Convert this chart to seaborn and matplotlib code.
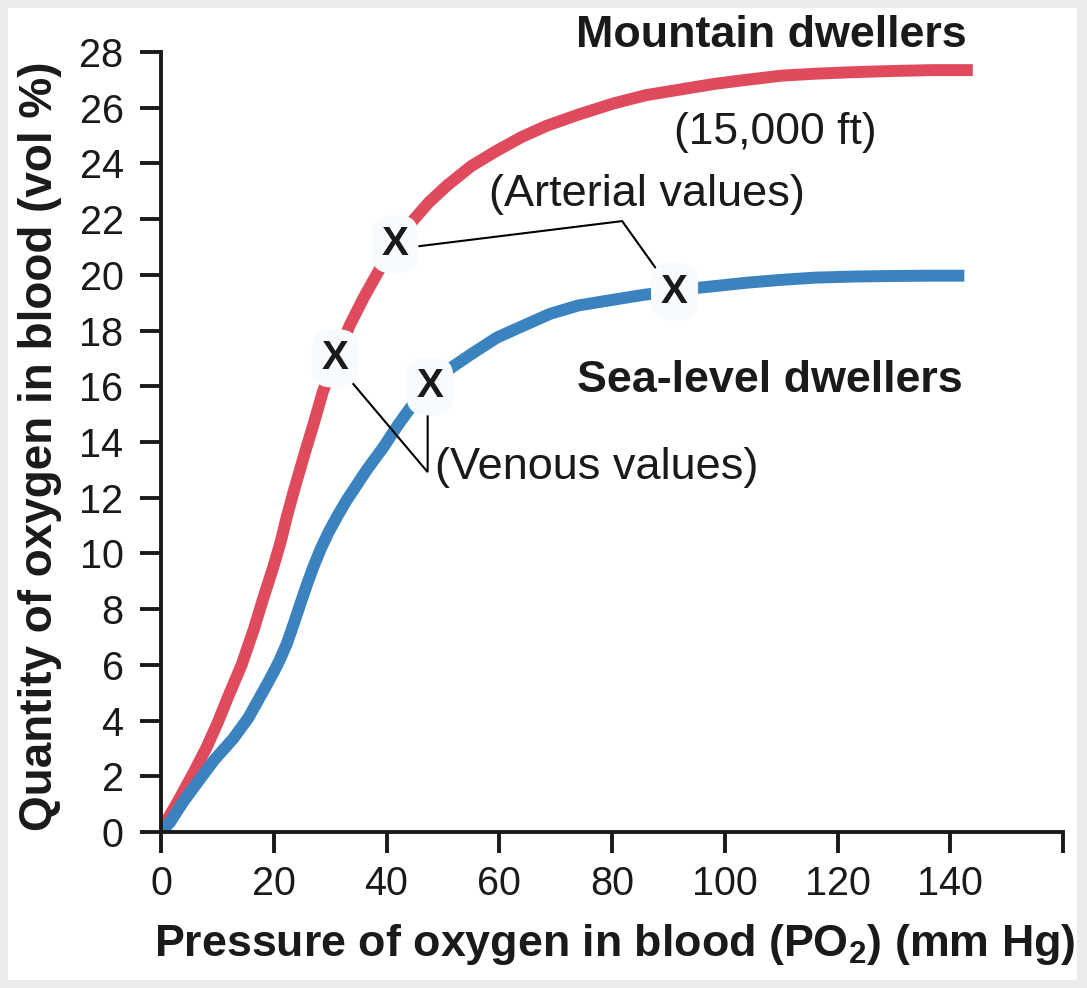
import numpy as np
import pandas as pd
import seaborn as sns
import matplotlib
matplotlib.use("Agg")
import matplotlib.pyplot as plt
from matplotlib.patches import Rectangle

# Oxygen dissociation curves: PO2 (mm Hg) vs O2 content (vol %)
mountain_po2 = [0, 1, 3, 5.7, 8, 10, 12, 14.3, 16.5, 18, 19.9, 21.2, 22.3, 23.5, 24.5,
                25.5, 27, 28.7, 31, 33.5, 36, 38.5, 41.5, 44.7, 47.5, 50.7, 55, 59.5,
                64, 68.4, 74, 80.2, 86, 92, 98, 103.8, 110, 116, 122, 130, 137, 144]
mountain_o2 = [0, 0.4, 1.1, 2.1, 3.0, 3.9, 4.9, 6.0, 7.3, 8.3, 9.5, 10.4, 11.3, 12.2,
               12.9, 13.6, 14.6, 15.8, 17.0, 18.2, 19.2, 20.1, 21.1, 21.95, 22.6, 23.2,
               23.9, 24.45, 24.95, 25.35, 25.75, 26.15, 26.45, 26.65, 26.85, 27.0,
               27.15, 27.22, 27.27, 27.32, 27.35, 27.35]

sea_po2 = [0, 1.6, 4, 6.9, 9.5, 12.8, 15.5, 18.8, 20, 21, 22.3, 23.5, 24.9, 26, 27,
           28.3, 29.7, 31.3, 32.9, 34.7, 36.5, 39.4, 42, 44.5, 47.7, 51, 55, 59.6, 64,
           69, 74, 80, 85.5, 91, 96, 104, 110, 116, 123, 130, 136, 142.5]
sea_o2 = [0, 0.35, 1.1, 1.9, 2.6, 3.35, 4.1, 5.3, 5.75, 6.15, 6.75, 7.45, 8.3, 8.95,
          9.5, 10.15, 10.75, 11.35, 11.9, 12.45, 13.0, 13.8, 14.6, 15.3, 16.0, 16.6,
          17.15, 17.75, 18.15, 18.6, 18.9, 19.1, 19.28, 19.42, 19.55, 19.72, 19.82,
          19.9, 19.94, 19.96, 19.97, 19.97]

# Arterial / venous points marked with an "X"
mark_po2 = [30.9, 41.5, 47.7, 91.1]
mark_o2 = [17.0, 21.1, 16.0, 19.4]

x_ticks = [0, 20, 40, 60, 80, 100, 120, 140, 160]
x_tick_labels = ["0", "20", "40", "60", "80", "100", "120", "140", ""]
y_ticks = list(range(0, 29, 2))

RED = "#df4b5c"
BLUE = "#3a83bf"
INK = "#1a1a1a"

sns.set_theme(style="white")
plt.rcParams["font.family"] = ["Liberation Sans", "DejaVu Sans"]
plt.rcParams["mathtext.fontset"] = "custom"
plt.rcParams["mathtext.bf"] = "Liberation Sans:bold"
plt.rcParams["mathtext.rm"] = "Liberation Sans:bold"
plt.rcParams["mathtext.default"] = "bf"

W, H = 1087, 988
fig = plt.figure(figsize=(W / 100, H / 100), dpi=100, facecolor="#ebebeb")
fig.patches.append(Rectangle((8 / W, 8 / H), (1077 - 8) / W, (980 - 8) / H,
                             transform=fig.transFigure, facecolor="white",
                             edgecolor="none", zorder=-10))

ax = fig.add_axes([161 / W, (H - 832) / H, (1063 - 161) / W, (832 - 52) / H])
ax.set_facecolor("none")

df_m = pd.DataFrame({"po2": mountain_po2, "o2": mountain_o2})
df_s = pd.DataFrame({"po2": sea_po2, "o2": sea_o2})
sns.lineplot(data=df_m, x="po2", y="o2", ax=ax, color=RED, linewidth=8.6,
             sort=False, estimator=None, solid_capstyle="butt",
             solid_joinstyle="round", zorder=2)
sns.lineplot(data=df_s, x="po2", y="o2", ax=ax, color=BLUE, linewidth=8.6,
             sort=False, estimator=None, solid_capstyle="butt",
             solid_joinstyle="round", zorder=2)

# leader lines to the labels
art_x = [44.6, 81.8, 87.9]
art_y = [21.0, 21.93, 20.2]
ven_x = [33.2, 47.3, 47.3]
ven_y = [16.3, 12.92, 14.97]
ax.plot(art_x, art_y, color="black", lw=1.5, zorder=4, solid_joinstyle="miter")
ax.plot(ven_x, ven_y, color="black", lw=1.5, zorder=4, solid_joinstyle="miter")

for px, py in zip(mark_po2, mark_o2):
    ax.text(px, py, "X", ha="center", va="center", fontsize=29, fontweight="bold",
            color=INK, zorder=5,
            bbox=dict(boxstyle="round,pad=0.25,rounding_size=0.5", fc="#f8fbfd",
                      ec="none"))

ax.text(108.3, 28.6, "Mountain dwellers", ha="center", va="center",
        fontsize=32.3, fontweight="bold", color=INK)
ax.text(108.9, 25.1, "(15,000 ft)", ha="center", va="center", fontsize=32,
        color=INK)
ax.text(86.2, 22.9, "(Arterial values)", ha="center", va="center", fontsize=32.5,
        color=INK)
ax.text(108.0, 16.2, "Sea-level dwellers", ha="center", va="center",
        fontsize=32.3, fontweight="bold", color=INK)
ax.text(48.6, 13.1, "(Venous values)", ha="left", va="center", fontsize=32.5,
        color=INK)

ax.set_xlim(0, 160)
ax.set_ylim(0, 28)
ax.set_xticks(x_ticks)
ax.set_xticklabels(x_tick_labels)
ax.set_yticks(y_ticks)
ax.set_yticklabels([str(v) for v in y_ticks])

for side in ["top", "right"]:
    ax.spines[side].set_visible(False)
for side in ["left", "bottom"]:
    ax.spines[side].set_linewidth(2.8)
    ax.spines[side].set_color(INK)

ax.tick_params(axis="both", direction="out", length=15, width=2.8,
               color=INK, labelsize=28.5, labelcolor=INK)
ax.tick_params(axis="x", pad=9, bottom=True)
ax.tick_params(axis="y", pad=12, left=True)

ax.set_xlabel(r"Pressure of oxygen in blood (PO$_2$) (mm Hg)", fontsize=32.2,
              fontweight="bold", color=INK)
ax.set_ylabel("Quantity of oxygen in blood (vol %)", fontsize=33,
              fontweight="bold", color=INK)
ax.xaxis.set_label_coords(0.503, -0.116)
ax.yaxis.set_label_coords(-0.110, 0.495)

fig.savefig("out.png", dpi=100, facecolor=fig.get_facecolor())
